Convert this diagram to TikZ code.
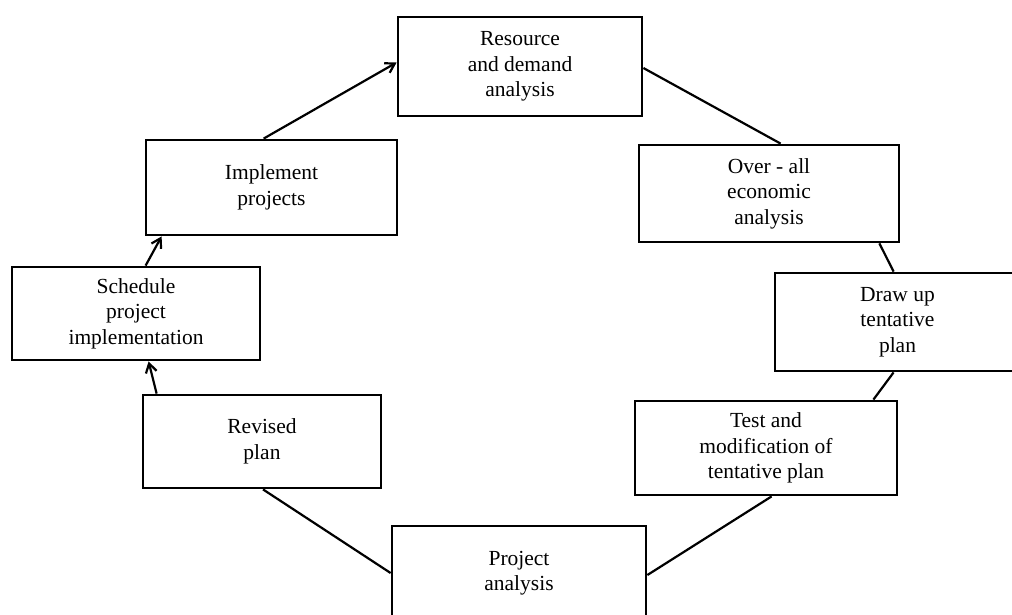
\documentclass[tikz,border=0pt]{standalone}
\usepackage{fontspec}
\setmainfont{Liberation Serif}
\usetikzlibrary{arrows.meta}
\begin{document}
\begin{tikzpicture}[x=1pt,y=-1pt,
  box/.style={draw=black, line width=2.8pt, rectangle, align=center,
    font=\fontsize{21.5pt}{25.5pt}\selectfont, inner sep=0pt},
  link/.style={draw=black, line width=2.2pt},
  arr/.style={link, -{Straight Barb[length=9pt,width=11pt,line width=2.2pt]}}]
\useasboundingbox (0,0) rectangle (1012,614);
\clip (0,0) rectangle (1012,614);
\fill[white] (0,0) rectangle (1012,614);
% boxes
\node[box, minimum width=244pt, minimum height=99pt] (res) at (520,66.5) {Resource\\and demand\\analysis};
\node[box, minimum width=260pt, minimum height=97pt] (ove) at (769,193.5) {Over - all\\economic\\analysis};
\node[box, minimum width=245pt, minimum height=98pt] (dra) at (897.5,322) {Draw up\\tentative\\plan};
\node[box, minimum width=262pt, minimum height=94pt] (tes) at (766,448) {Test and\\modification of\\tentative plan};
\node[box, minimum width=254pt, minimum height=94pt] (pro) at (519,573) {Project\\analysis};
\node[box, minimum width=238pt, minimum height=93pt] (rev) at (262,441.5) {Revised\\plan};
\node[box, minimum width=248pt, minimum height=93pt] (sch) at (136,313.5) {Schedule\\project\\implementation};
\node[box, minimum width=251pt, minimum height=95pt] (imp) at (271.5,187.5) {Implement\\projects};
% connectors
\draw[link] ([yshift=-1.5pt]res.east) -- ([xshift=143pt]ove.north west);
\draw[link] ([xshift=-21pt]ove.south east) -- ([xshift=120pt]dra.north west);
\draw[link] ([xshift=120pt]dra.south west) -- ([xshift=-25pt]tes.north east);
\draw[link] ([xshift=138pt]tes.south west) -- ([yshift=-2pt]pro.east);
\draw[link] ([xshift=1pt]rev.south) -- (pro.west);
\draw[arr] ([xshift=15pt]rev.north west) -- ([xshift=138pt]sch.south west);
\draw[arr] ([xshift=135pt]sch.north west) -- ([xshift=17pt]imp.south west);
\draw[arr] ([xshift=119pt]imp.north west) -- ([yshift=4pt]res.west);
\end{tikzpicture}
\end{document}
